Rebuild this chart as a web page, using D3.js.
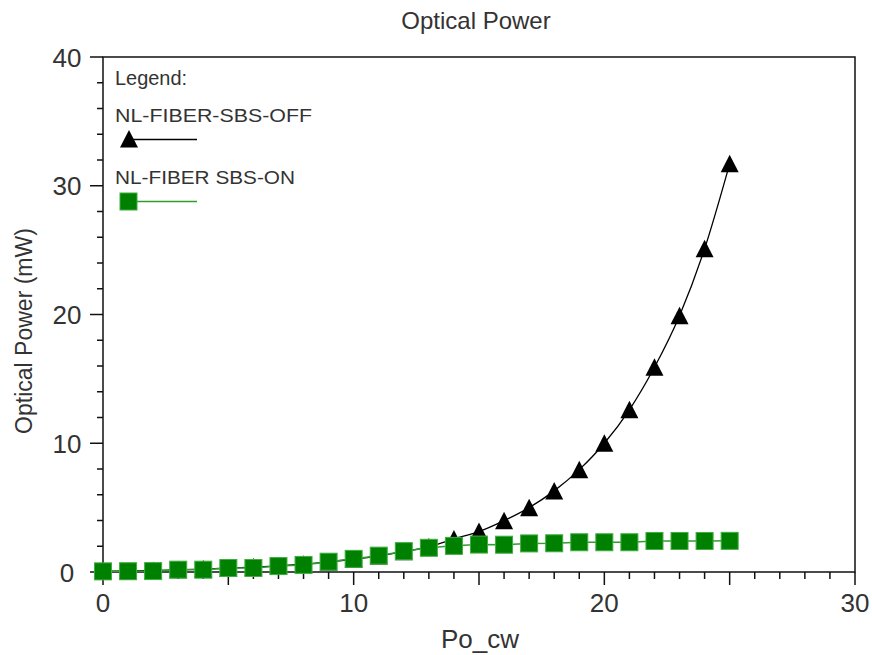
<!DOCTYPE html>
<html lang="en">
<head>
  <meta charset="UTF-8">
  <title>Optical Power</title>
  <script src="https://d3js.org/d3.v7.min.js"></script>
  <style>
    body { margin: 0; background: #fff; }
    svg { display: block; }
    text { font-family: "Liberation Sans", Arial, sans-serif; fill: #333; }
    .axis-line { stroke: #111; stroke-width: 1.5; fill: none; }
    .off-line { stroke: #000; stroke-width: 1.3; fill: none; }
    .on-line { stroke: #2e9e2e; stroke-width: 1.5; fill: none; }
    .tri { fill: #000; }
    .sq { fill: #008000; stroke: #3fae3f; stroke-width: 1; }
  </style>
</head>
<body>
  <svg id="chart" width="872" height="655"></svg>
  <script>
    // Po_cw values (x)
    const poCw = [0, 1, 2, 3, 4, 5, 6, 7, 8, 9, 10, 11, 12, 13, 14, 15, 16, 17, 18, 19, 20, 21, 22, 23, 24, 25];
    // NL-FIBER-SBS-OFF (mW)
    const sbsOff = [0.05, 0.08, 0.12, 0.17, 0.23, 0.30, 0.38, 0.48, 0.61, 0.78, 0.99, 1.25, 1.58, 1.95, 2.57, 3.14, 3.99, 5.0, 6.3, 7.95, 10.0, 12.6, 15.9, 19.9, 25.1, 31.7];
    // NL-FIBER SBS-ON (mW)
    const sbsOn = [0.05, 0.06, 0.07, 0.18, 0.18, 0.31, 0.31, 0.46, 0.55, 0.8, 1.02, 1.27, 1.62, 1.88, 2.03, 2.13, 2.12, 2.22, 2.23, 2.31, 2.31, 2.31, 2.41, 2.41, 2.41, 2.42];

    const xTicks = [0, 10, 20, 30];
    const yTicks = [0, 10, 20, 30, 40];
    const seriesNames = ['NL-FIBER-SBS-OFF', 'NL-FIBER SBS-ON'];

    const svg = d3.select('#chart');
    const m = { left: 103, right: 855, top: 57, bottom: 572 };

    const x = d3.scaleLinear().domain([0, 30]).range([m.left, m.right]);
    const y = d3.scaleLinear().domain([0, 40]).range([m.bottom, m.top]);

    // frame
    svg.append('path').attr('class', 'axis-line')
      .attr('d', `M${m.left},${m.top}H${m.right}V${m.bottom}H${m.left}Z`);

    // x ticks: minor every 1, major every 5 (outward)
    d3.range(0, 31).forEach(v => {
      const len = v % 5 === 0 ? 13 : 7;
      svg.append('line').attr('class', 'axis-line')
        .attr('x1', x(v)).attr('x2', x(v))
        .attr('y1', m.bottom).attr('y2', m.bottom + len);
    });
    // y ticks: minor every 2, major every 10
    d3.range(0, 41, 2).forEach(v => {
      const len = v % 10 === 0 ? 13 : 6;
      svg.append('line').attr('class', 'axis-line')
        .attr('x1', m.left - len).attr('x2', m.left)
        .attr('y1', y(v)).attr('y2', y(v));
    });

    svg.selectAll('text.xt').data(xTicks).enter().append('text')
      .attr('class', 'xt')
      .attr('x', d => x(d)).attr('y', 612)
      .attr('text-anchor', 'middle')
      .style('font-size', '26px')
      .text(d => d);

    svg.selectAll('text.yt').data(yTicks).enter().append('text')
      .attr('class', 'yt')
      .attr('x', 67).attr('y', d => y(d) + 9.5)
      .attr('text-anchor', 'middle')
      .style('font-size', '26px')
      .text(d => d);

    // titles
    svg.append('text').attr('x', 476).attr('y', 29)
      .attr('text-anchor', 'middle').style('font-size', '24px')
      .text('Optical Power');
    svg.append('text').attr('x', 480).attr('y', 648)
      .attr('text-anchor', 'middle').style('font-size', '26px')
      .text('Po_cw');
    svg.append('text')
      .attr('transform', 'translate(32,331) rotate(-90)')
      .attr('text-anchor', 'middle').style('font-size', '23px')
      .text('Optical Power (mW)');

    const triPath = 'M0,-9L9,8.5L-9,8.5Z';

    // SBS-OFF series
    const offData = poCw.map((p, i) => [p, sbsOff[i]]);
    svg.append('path').attr('class', 'off-line')
      .attr('d', d3.line().x(d => x(d[0])).y(d => y(d[1])).curve(d3.curveMonotoneX)(offData));
    svg.selectAll('path.tri').data(offData).enter().append('path')
      .attr('class', 'tri')
      .attr('transform', d => `translate(${x(d[0])},${y(d[1])})`)
      .attr('d', triPath);

    // SBS-ON series
    const onData = poCw.map((p, i) => [p, sbsOn[i]]);
    svg.append('path').attr('class', 'on-line')
      .attr('d', d3.line().x(d => x(d[0])).y(d => y(d[1]))(onData));
    svg.selectAll('rect.sq').data(onData).enter().append('rect')
      .attr('class', 'sq')
      .attr('x', d => x(d[0]) - 8.5).attr('y', d => y(d[1]) - 8.5)
      .attr('width', 17).attr('height', 17);

    // legend
    svg.append('text').attr('x', 115).attr('y', 85).style('font-size', '20px')
      .attr('textLength', 72).attr('lengthAdjust', 'spacingAndGlyphs').text('Legend:');
    svg.append('text').attr('x', 115).attr('y', 122).style('font-size', '19px')
      .attr('textLength', 197).attr('lengthAdjust', 'spacingAndGlyphs').text(seriesNames[0]);
    svg.append('line').attr('class', 'off-line')
      .attr('x1', 128).attr('x2', 197).attr('y1', 139.5).attr('y2', 139.5);
    svg.append('path').attr('class', 'tri')
      .attr('transform', 'translate(129,139)').attr('d', triPath);
    svg.append('text').attr('x', 115).attr('y', 184).style('font-size', '19px')
      .attr('textLength', 180).attr('lengthAdjust', 'spacingAndGlyphs').text(seriesNames[1]);
    svg.append('line').attr('class', 'on-line')
      .attr('x1', 128).attr('x2', 197).attr('y1', 201.5).attr('y2', 201.5);
    svg.append('rect').attr('class', 'sq')
      .attr('x', 120).attr('y', 193).attr('width', 17).attr('height', 17);
  </script>
</body>
</html>
